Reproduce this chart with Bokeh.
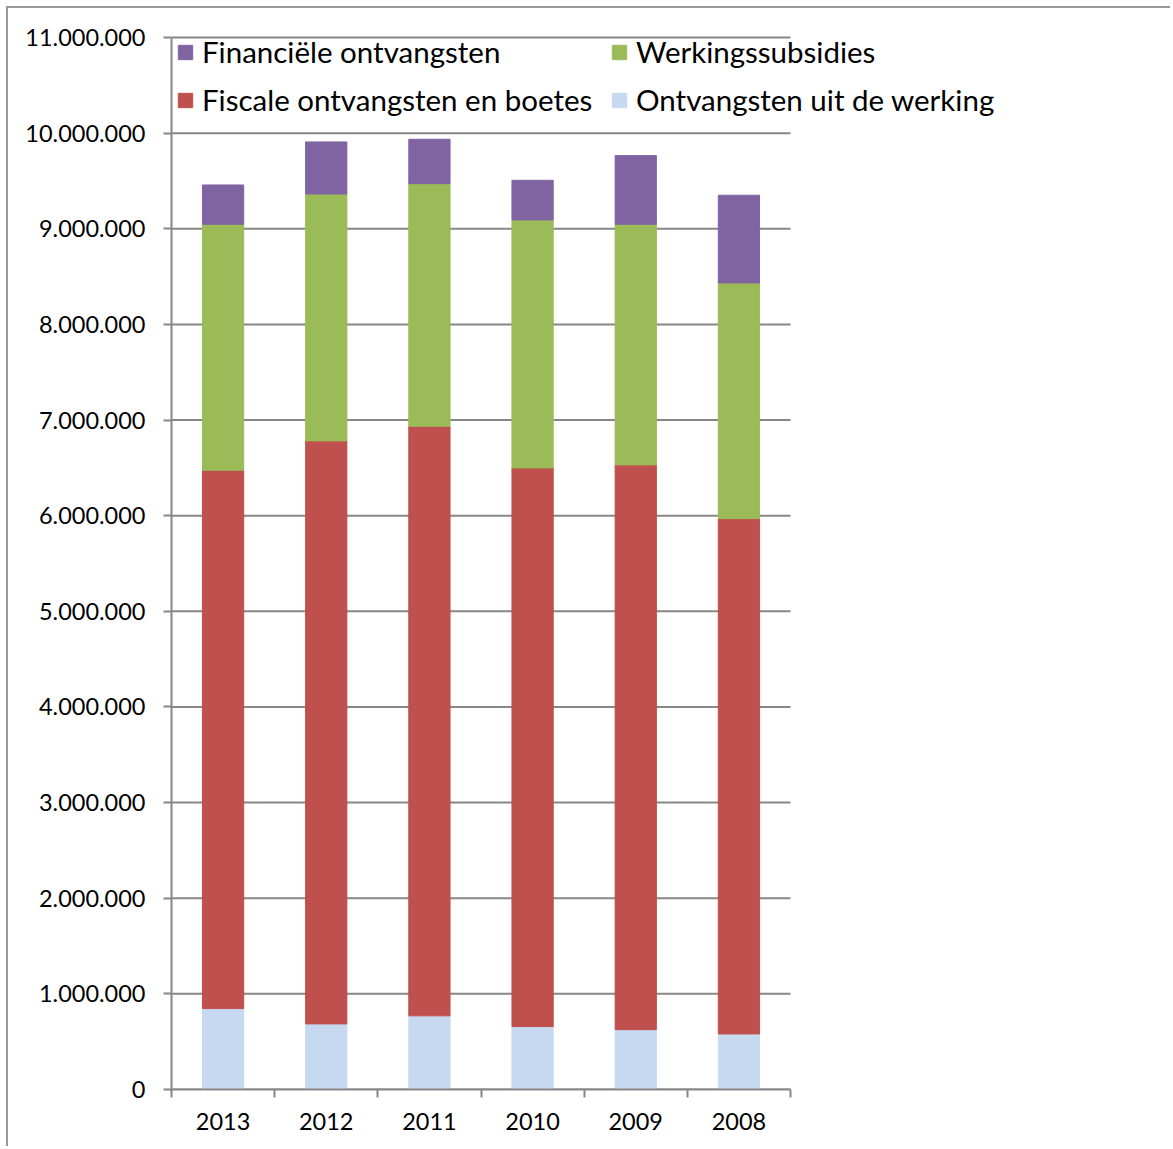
from bokeh.plotting import figure
from bokeh.models import (ColumnDataSource, Legend, LegendItem, FixedTicker,
                          Range1d)
from bokeh.embed import file_html
from bokeh.resources import INLINE

# ---- data -------------------------------------------------------------
years = ["2013", "2012", "2011", "2010", "2009", "2008"]
ontvangsten_werking = [846000, 686000, 770000, 658000, 626000, 581000]
fiscale_boetes = [5629000, 6096000, 6165000, 5841000, 5905000, 5388000]
werkingssubsidies = [2572000, 2582000, 2537000, 2593000, 2516000, 2465000]
financiele = [411000, 544000, 464000, 415000, 718000, 917000]

series_names = ["Ontvangsten uit de werking", "Fiscale ontvangsten en boetes",
                "Werkingssubsidies", "Financiële ontvangsten"]
series_keys = ["werking", "fiscaal", "subsidies", "financieel"]
series_colors = ["#C6D9F1", "#C0504D", "#9BBB59", "#8064A2"]

y_max = 11000000
y_ticks = [i * 1000000 for i in range(0, 12)]
y_tick_labels = [format(v, ",").replace(",", ".") for v in y_ticks]

# ---- source -----------------------------------------------------------
n = len(years)
x_pos = [i + 0.5 for i in range(n)]
source = ColumnDataSource(dict(
    x=x_pos,
    werking=ontvangsten_werking,
    fiscaal=fiscale_boetes,
    subsidies=werkingssubsidies,
    financieel=financiele,
))

FONT = "Lato"
GRID = "#878787"

W, H = 1164, 1140
LEFT, BOTTOM = 163, 59
TOP_GAP = 29               # px between canvas top and the top gridline
FRAME_H = H - BOTTOM       # frame reaches the canvas top (legend not clipped)
PLOT_H = FRAME_H - TOP_GAP # px covered by 0 .. y_max
CAT_AREA_PX = 619          # pixel width covered by the six categories
x_end = n * (W - LEFT) / CAT_AREA_PX
y_end = y_max * FRAME_H / PLOT_H

p = figure(width=W, height=H, output_backend="svg", toolbar_location=None,
           title=None, x_range=Range1d(0, x_end),
           y_range=Range1d(0, y_end),
           min_border_left=LEFT, min_border_right=0,
           min_border_top=0, min_border_bottom=BOTTOM)
p.outline_line_color = None
p.background_fill_color = "white"
p.border_fill_color = "white"
p.styles = {"margin-left": "6px", "margin-top": "6px",
            "border-left": "2px solid #999999",
            "border-top": "2px solid #999999"}

# horizontal gridlines limited to the category area
p.segment(x0=[0] * len(y_ticks), x1=[n] * len(y_ticks), y0=y_ticks, y1=y_ticks,
          line_color=GRID, line_width=2, level="underlay")

renderers = p.vbar_stack(series_keys, x="x", width=0.4, color=series_colors,
                         source=source)

# ---- axes -------------------------------------------------------------
yax = p.yaxis[0]
yax.bounds = (0, y_max)
yax.ticker = FixedTicker(ticks=y_ticks)
yax.major_label_overrides = {t: l for t, l in zip(y_ticks, y_tick_labels)}
yax.axis_line_color = GRID
yax.axis_line_width = 2
yax.major_tick_line_color = GRID
yax.major_tick_line_width = 2
yax.major_tick_out = 8
yax.major_tick_in = 0
yax.minor_tick_line_color = None
yax.major_label_standoff = 18
yax.major_label_text_font = FONT
yax.major_label_text_font_size = "23.5px"
yax.major_label_text_color = "black"

xax = p.xaxis[0]
xax.bounds = (0, n)
xax.ticker = FixedTicker(ticks=x_pos, minor_ticks=list(range(n + 1)))
xax.major_label_overrides = {x: y for x, y in zip(x_pos, years)}
xax.axis_line_color = GRID
xax.axis_line_width = 2
xax.major_tick_line_color = None
xax.major_tick_out = 0
xax.major_tick_in = 0
xax.minor_tick_line_color = GRID
xax.minor_tick_line_width = 2
xax.minor_tick_out = 8
xax.minor_tick_in = 0
xax.major_label_standoff = 15
xax.major_label_text_font = FONT
xax.major_label_text_font_size = "23.5px"
xax.major_label_text_color = "black"

p.xgrid.grid_line_color = None
p.ygrid.grid_line_color = None

# ---- legend -----------------------------------------------------------
LEG_PAD, LEG_SPACING, ITEM_H = 6, 13, 29
LEG_H = 2 * LEG_PAD + 2 * ITEM_H + LEG_SPACING
LEG_DX, LEG_TOP = 5, TOP_GAP - 3   # legend box offset from frame left / top
order = [3, 2, 1, 0]
items = [LegendItem(label=series_names[i], renderers=[renderers[i]]) for i in order]
legend = Legend(items=items, location=(LEG_DX, FRAME_H - LEG_TOP - LEG_H),
                orientation="horizontal",
                ncols=2, border_line_color=None, background_fill_alpha=0,
                margin=0, padding=LEG_PAD, spacing=LEG_SPACING, label_standoff=8,
                label_width=395,
                glyph_width=18, glyph_height=18,
                label_text_font=FONT, label_text_font_size="29.5px",
                label_text_color="black")
p.add_layout(legend)

open("out.html", "w").write(file_html(p, INLINE))
